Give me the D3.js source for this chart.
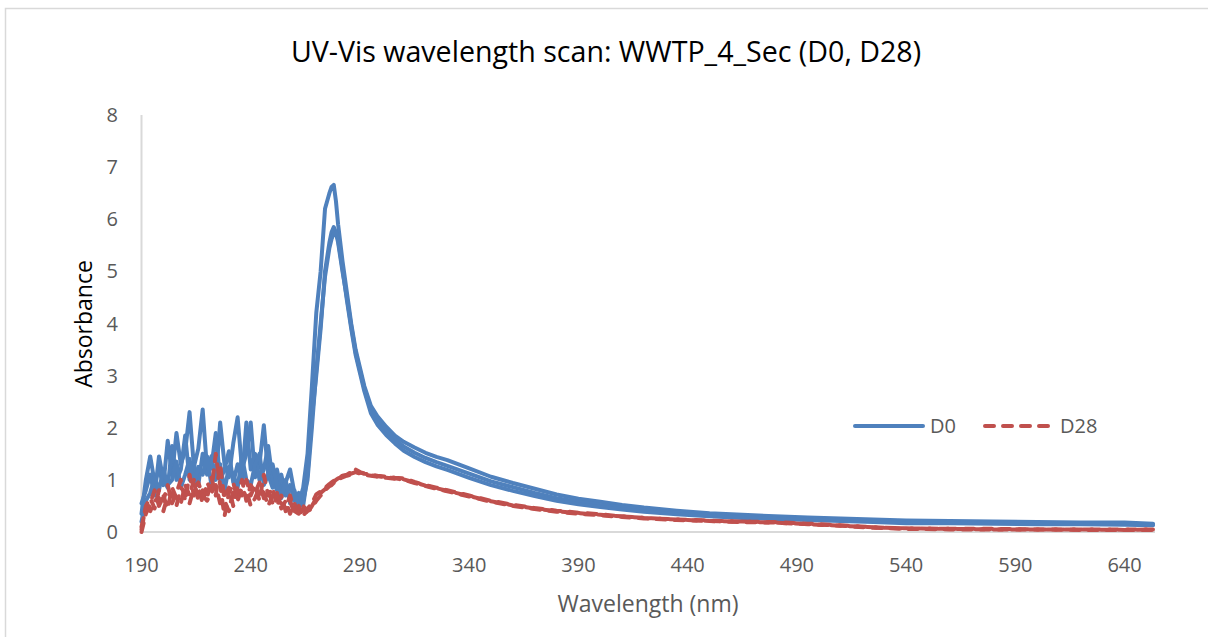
<!DOCTYPE html>
<html>
<head>
<meta charset="utf-8">
<script src="https://cdn.jsdelivr.net/npm/d3@7"></script>
<style>
  body { margin: 0; background: #fff; }
  svg { display: block; font-family: "Open Sans", sans-serif; }
  .tick-label { fill: #595959; font-size: 20px; }
  .axis-line { stroke: #d9d9d9; stroke-width: 2; fill: none; }
</style>
</head>
<body>
<svg width="1208" height="637"></svg>
<script>
// wavelengths (nm) shared by every replicate
var wavelengths = [190,192,194,196,198,200,202,204,206,208,210,212,214,216,218,220,222,224,226,228,
  230,232,234,236,238,240,242,244,246,248,250,252,254,256,258,260,262,264,
  266,268,270,272,274,276,277,278,279,280,282,284,286,288,290,292,295,298,302,306,310,
  315,320,325,330,340,350,360,370,380,390,400,410,420,435,450,465,480,495,510,525,540,
  560,580,600,620,640,653];

// D0 replicates
var d0a = [0.35,1.0,1.45,0.95,1.2,0.9,1.75,1.1,1.9,1.3,1.55,2.3,1.25,1.6,2.35,1.2,1.45,1.0,2.1,1.3,
  1.05,1.7,2.2,1.2,1.5,2.1,1.05,1.3,2.05,1.1,0.85,1.2,0.8,0.95,1.2,0.75,0.55,0.85,
  1.5,2.8,4.2,5.0,6.2,6.5,6.62,6.66,6.35,5.9,5.2,4.6,4.0,3.5,3.15,2.8,2.42,2.22,2.02,1.85,1.73,
  1.62,1.52,1.44,1.38,1.22,1.06,0.94,0.83,0.72,0.64,0.58,0.52,0.47,0.41,0.36,0.33,0.3,0.28,0.26,0.24,0.22,
  0.21,0.2,0.19,0.18,0.18,0.16];
var d0b = [0.55,0.8,1.1,0.7,1.45,1.0,0.85,1.65,1.0,1.2,1.85,1.0,1.3,0.9,1.5,1.1,1.25,1.9,1.0,1.2,
  1.55,0.95,1.3,1.0,2.1,1.2,1.5,1.0,1.2,1.65,1.0,0.8,1.1,0.7,0.9,0.6,0.75,0.5,
  1.1,2.2,3.0,3.9,5.0,5.55,5.75,5.85,5.75,5.55,5.0,4.5,3.95,3.45,3.1,2.75,2.35,2.15,1.95,1.78,1.64,
  1.52,1.42,1.34,1.27,1.12,0.97,0.86,0.75,0.65,0.58,0.52,0.47,0.42,0.37,0.32,0.29,0.27,0.25,0.23,0.21,0.18,
  0.19,0.18,0.17,0.16,0.16,0.14];
var d0c = [0.2,0.6,0.75,1.05,0.8,1.2,0.9,1.0,1.35,0.85,1.1,1.4,0.9,1.25,1.1,1.45,0.9,1.15,1.3,0.8,
  1.25,1.1,0.85,1.45,1.0,0.9,1.3,1.5,0.9,1.1,1.3,0.9,0.65,1.0,0.55,0.8,0.45,0.6,
  1.0,2.0,3.1,4.0,4.9,5.45,5.62,5.72,5.75,5.6,5.05,4.45,3.9,3.4,3.05,2.7,2.28,2.06,1.86,1.7,1.56,
  1.44,1.34,1.26,1.19,1.04,0.9,0.79,0.69,0.6,0.53,0.48,0.43,0.39,0.34,0.3,0.27,0.25,0.23,0.21,0.19,0.17,
  0.17,0.16,0.15,0.15,0.14,0.13];

// D28 replicates
var d28a = [0.05,0.5,0.65,0.45,0.8,0.6,0.9,0.55,0.75,1.0,0.6,1.1,0.7,0.85,0.55,0.95,0.8,1.5,0.9,0.3,
  0.75,0.95,0.6,0.85,1.0,0.7,0.9,0.6,1.1,0.7,0.85,0.5,0.7,0.4,0.6,0.35,0.5,0.3,
  0.45,0.55,0.72,0.78,0.85,0.92,0.95,0.98,1.0,1.02,1.08,1.1,1.15,1.18,1.14,1.12,1.1,1.08,1.06,1.04,1.03,
  0.96,0.9,0.85,0.8,0.7,0.6,0.52,0.46,0.41,0.37,0.34,0.3,0.27,0.24,0.22,0.2,0.19,0.16,0.13,0.09,0.07,
  0.06,0.06,0.05,0.05,0.05,0.05];
var d28b = [0.0,0.35,0.55,0.8,0.5,0.7,0.45,0.85,0.65,0.55,0.9,0.7,1.0,0.6,0.8,0.65,1.05,0.7,1.3,0.6,
  0.4,0.8,0.65,1.0,0.6,0.9,0.75,0.95,0.65,0.8,0.55,0.75,0.45,0.6,0.35,0.55,0.3,0.45,
  0.35,0.5,0.65,0.75,0.82,0.9,0.93,0.96,1.0,1.03,1.06,1.12,1.12,1.15,1.12,1.1,1.08,1.06,1.04,1.02,1.01,
  0.95,0.89,0.84,0.79,0.69,0.59,0.51,0.45,0.4,0.36,0.33,0.3,0.27,0.24,0.21,0.2,0.18,0.15,0.12,0.09,0.07,
  0.06,0.05,0.05,0.05,0.04,0.05];
var d28c = [0.1,0.45,0.4,0.6,0.65,0.4,0.7,0.75,0.5,0.85,0.75,0.55,0.85,0.95,0.7,0.6,0.75,0.9,0.55,0.7,
  0.85,0.5,0.9,0.7,0.8,0.5,0.65,0.85,0.75,0.5,0.7,0.6,0.55,0.45,0.7,0.4,0.35,0.5,
  0.4,0.45,0.6,0.7,0.8,0.88,0.9,0.94,0.97,1.0,1.05,1.08,1.1,1.2,1.15,1.12,1.09,1.07,1.05,1.03,1.0,
  0.94,0.88,0.83,0.78,0.68,0.58,0.5,0.44,0.39,0.35,0.32,0.29,0.26,0.23,0.21,0.19,0.18,0.15,0.12,0.08,0.06,
  0.05,0.05,0.05,0.04,0.04,0.04];

var xTicks = [190,240,290,340,390,440,490,540,590,640];
var yTicks = [0,1,2,3,4,5,6,7,8];

var series = [
  { name: 'D0',  values: d0a,  color: '#4f81bd', dash: null },
  { name: 'D0',  values: d0b,  color: '#4f81bd', dash: null },
  { name: 'D0',  values: d0c,  color: '#4f81bd', dash: null },
  { name: 'D28', values: d28a, color: '#c0504d', dash: '9,9' },
  { name: 'D28', values: d28b, color: '#c0504d', dash: '9,9' },
  { name: 'D28', values: d28c, color: '#c0504d', dash: '9,9' }
];

var svg = d3.select('svg');

// chart frame
svg.append('rect')
  .attr('x', 5.5).attr('y', 8.5)
  .attr('width', 1220).attr('height', 640)
  .attr('fill', 'none')
  .attr('stroke', '#d9d9d9')
  .attr('stroke-width', 1.5);

var x = d3.scaleLinear()
  .domain([190, 653])
  .range([141.5, 1153]);

var y = d3.scaleLinear()
  .domain([0, 8])
  .range([532, 115]);

// axis lines
svg.append('path')
  .attr('class', 'axis-line')
  .attr('d', 'M' + x(190) + ',' + y(8) + ' L' + x(190) + ',' + y(0));
svg.append('path')
  .attr('class', 'axis-line')
  .attr('d', 'M' + x(190) + ',' + y(0) + ' L' + (x(653) + 2) + ',' + y(0));

svg.selectAll('.ytick')
  .data(yTicks)
  .enter().append('text')
  .attr('class', 'tick-label ytick')
  .attr('text-anchor', 'end')
  .attr('x', 118)
  .attr('y', function(d) { return y(d) + 7; })
  .text(function(d) { return d; });

svg.selectAll('.xtick')
  .data(xTicks)
  .enter().append('text')
  .attr('class', 'tick-label xtick')
  .attr('text-anchor', 'middle')
  .attr('x', function(d) { return x(d); })
  .attr('y', 572)
  .text(function(d) { return d; });

var line = d3.line()
  .x(function(d, i) { return x(wavelengths[i]); })
  .y(function(d) { return y(d); })
  .curve(d3.curveLinear);

svg.selectAll('.series')
  .data(series)
  .enter().append('path')
  .attr('class', 'series')
  .attr('fill', 'none')
  .attr('stroke', function(d) { return d.color; })
  .attr('stroke-width', 4)
  .attr('stroke-linejoin', 'round')
  .attr('stroke-linecap', 'round')
  .attr('stroke-dasharray', function(d) { return d.dash; })
  .attr('d', function(d) { return line(d.values); });

// titles
svg.append('text')
  .attr('x', 606).attr('y', 62)
  .attr('text-anchor', 'middle')
  .attr('font-size', 28.6)
  .attr('fill', '#000')
  .text('UV-Vis wavelength scan: WWTP_4_Sec (D0, D28)');

svg.append('text')
  .attr('x', 648).attr('y', 612)
  .attr('text-anchor', 'middle')
  .attr('font-size', 23)
  .attr('fill', '#595959')
  .text('Wavelength (nm)');

svg.append('text')
  .attr('transform', 'translate(92,324) rotate(-90)')
  .attr('text-anchor', 'middle')
  .attr('font-size', 23)
  .attr('fill', '#000')
  .text('Absorbance');

// legend
var legend = [
  { name: 'D0',  color: '#4f81bd', dash: null,  x: 855 },
  { name: 'D28', color: '#c0504d', dash: '9,9', x: 985 }
];
var lg = svg.selectAll('.legend')
  .data(legend)
  .enter().append('g')
  .attr('class', 'legend');
lg.append('path')
  .attr('d', function(d) { return 'M' + d.x + ',426 L' + (d.x + 68) + ',426'; })
  .attr('stroke', function(d) { return d.color; })
  .attr('stroke-width', 4)
  .attr('stroke-linecap', 'round')
  .attr('stroke-dasharray', function(d) { return d.dash; });
lg.append('text')
  .attr('class', 'tick-label')
  .attr('x', function(d) { return d.x + 75; })
  .attr('y', 433)
  .text(function(d) { return d.name; });
</script>
</body>
</html>
